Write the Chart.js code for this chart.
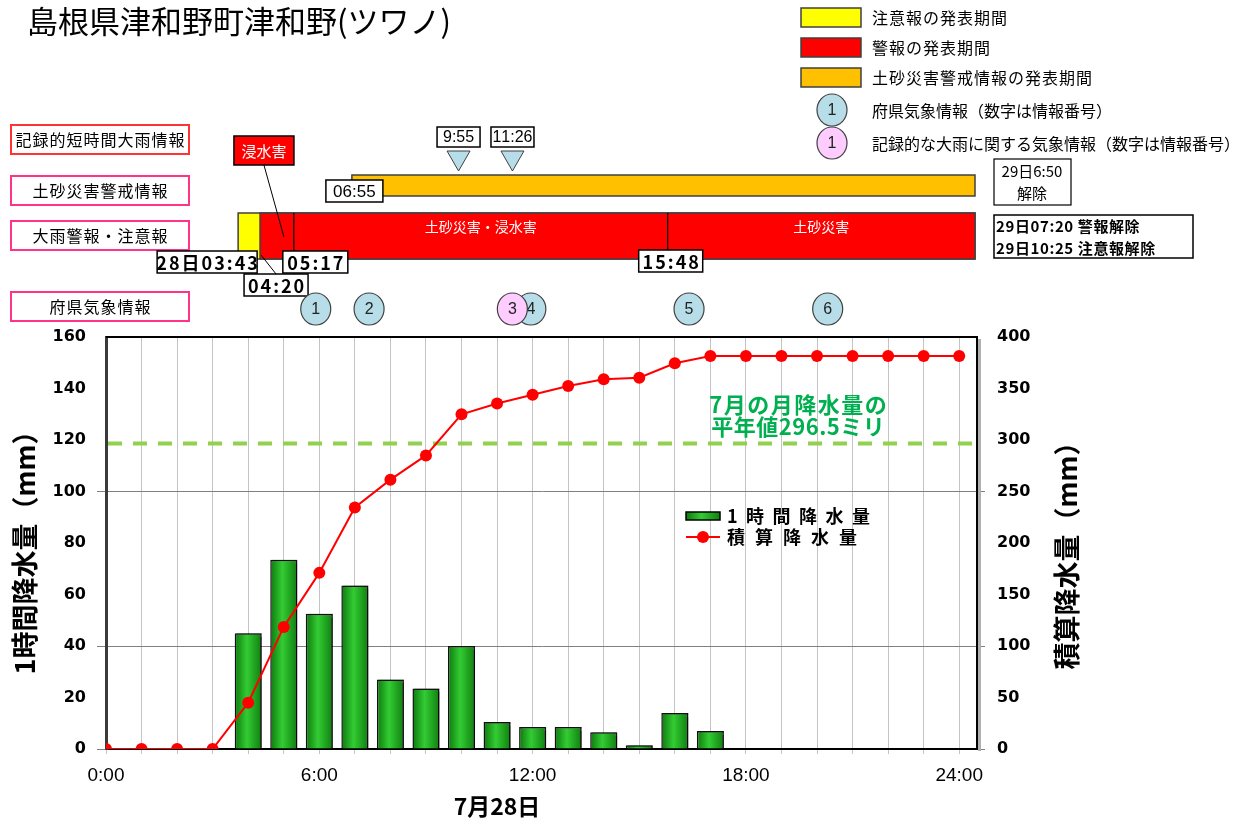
<!DOCTYPE html>
<html lang="ja">
<head>
<meta charset="utf-8">
<title>島根県津和野町津和野 降水量</title>
<script src="https://cdn.jsdelivr.net/npm/chart.js@4.4.1/dist/chart.umd.min.js"></script>
<style>
  html, body { margin: 0; padding: 0; background: #fff; }
  #wrap { width: 1257px; height: 821px; }
</style>
</head>
<body>
<div id="wrap"><canvas id="rainChart" width="1257" height="821"></canvas></div>
<script>
// 7月28日 0時〜24時
const hours = [0, 1, 2, 3, 4, 5, 6, 7, 8, 9, 10, 11, 12, 13, 14, 15, 16, 17, 18, 19, 20, 21, 22, 23, 24];
// 1時間降水量 (mm)
const hourlyRain = [0, 0, 0, 0, 45, 73.5, 52.5, 63.5, 27, 23.5, 40, 10.5, 8.5, 8.5, 6.5, 1.5, 14, 7, 0, 0, 0, 0, 0, 0, 0];
// 積算降水量 (mm)
const totalRain = [0, 0, 0, 0, 45, 118.5, 171, 234.5, 261.5, 285, 325, 335.5, 344, 352.5, 359, 360.5, 374.5, 381.5, 381.5, 381.5, 381.5, 381.5, 381.5, 381.5, 381.5];
// 7月の月降水量の平年値
const julyNormal = 296.5;

const xTickHours = [0, 6, 12, 18, 24];
const xTickLabels = ['0:00', '6:00', '12:00', '18:00', '24:00'];
const leftGridValues = [0, 40, 100];
const rightGridValues = [0, 100, 250];

// 防災情報の発表時刻（28日0時からの時間）
const advisoryFrom = 3 + 43 / 60;          // 28日03:43 注意報
const advisoryTo = 24 + 10 + 25 / 60;      // 29日10:25 注意報解除
const warningFrom = 4 + 20 / 60;           // 04:20 警報（浸水害）
const warningChanges = [5 + 17 / 60, 15 + 48 / 60]; // 05:17 土砂災害・浸水害 / 15:48 土砂災害
const warningTo = 24 + 7 + 20 / 60;        // 29日07:20 警報解除
const sedimentFrom = 6 + 55 / 60;          // 06:55 土砂災害警戒情報
const sedimentTo = 24 + 6 + 50 / 60;       // 29日6:50 解除
const recordTimes = [9 + 55 / 60, 11 + 26 / 60];
const recordLabels = ['9:55', '11:26'];
const infoNumbers = [1, 2, 3, 4, 5, 6];
const infoTimes = [5.9, 7.4, 11.43, 11.95, 16.4, 20.3];
const infoRecord = [false, false, true, false, false, false];

const JP = '"Noto Sans CJK JP", sans-serif';

function rect(ctx, x, y, w, h, fill, stroke, lw) {
  if (fill) { ctx.fillStyle = fill; ctx.fillRect(x, y, w, h); }
  if (stroke) { ctx.strokeStyle = stroke; ctx.lineWidth = lw || 1; ctx.strokeRect(x, y, w, h); }
}

function text(ctx, s, x, y, font, color, align) {
  ctx.font = font;
  ctx.fillStyle = color;
  ctx.textAlign = align || 'left';
  ctx.textBaseline = 'middle';
  ctx.fillText(s, x, y);
}

// 字間を空けて描く
function spaced(ctx, s, x, y, font, color, gap, align) {
  ctx.font = font;
  ctx.fillStyle = color;
  ctx.textAlign = 'left';
  ctx.textBaseline = 'middle';
  const chars = [...s];
  const ws = chars.map(c => ctx.measureText(c).width);
  const total = ws.reduce((a, b) => a + b, 0) + gap * (chars.length - 1);
  let cx = align === 'center' ? x - total / 2 : x;
  chars.forEach((c, i) => { ctx.fillText(c, cx, y); cx += ws[i] + gap; });
}

function line(ctx, x0, y0, x1, y1, color, lw) {
  ctx.beginPath();
  ctx.moveTo(x0, y0);
  ctx.lineTo(x1, y1);
  ctx.strokeStyle = color;
  ctx.lineWidth = lw;
  ctx.stroke();
}

function marker(ctx, n, x, y, record) {
  ctx.beginPath();
  ctx.ellipse(x, y, 15, 16, 0, 0, Math.PI * 2);
  ctx.fillStyle = record ? '#ffccff' : '#b7dde8';
  ctx.fill();
  ctx.strokeStyle = '#404040';
  ctx.lineWidth = 1.2;
  ctx.stroke();
  text(ctx, String(n), x, y + 1, '16px "Liberation Sans"', '#222', 'center');
}

function greenGradient(ctx, x0, x1) {
  const g = ctx.createLinearGradient(x0, 0, x1, 0);
  g.addColorStop(0, '#0d780d');
  g.addColorStop(0.45, '#33cc33');
  g.addColorStop(1, '#0f7f0f');
  return g;
}

function barFill(c) {
  const chart = c.chart;
  const xs = chart.scales.x;
  if (!xs || c.type !== 'data') return '#2fbf2f';
  const px = xs.getPixelForValue(hours[c.dataIndex]);
  const half = (xs.getPixelForValue(1) - xs.getPixelForValue(0)) * 0.76 / 2;
  if (!isFinite(px) || !isFinite(half)) return '#2fbf2f';
  return greenGradient(chart.ctx, px - half, px + half);
}

const overlay = {
  id: 'overlay',
  beforeDatasetsDraw(chart) {
    const { ctx, chartArea: ca, scales } = chart;
    const y = scales.y1.getPixelForValue(julyNormal);
    ctx.save();
    ctx.setLineDash([14, 11]);
    line(ctx, ca.left + 2, y, ca.right, y, '#92d050', 4);
    ctx.restore();
  },
  beforeDatasetDraw(chart, args) {
    if (args.index !== 1) return;
    const ctx = chart.ctx;
    ctx.save();
    ctx.shadowColor = 'rgba(0,0,0,0.55)';
    ctx.shadowOffsetX = 2;
    ctx.shadowOffsetY = 0;
    ctx.shadowBlur = 1;
  },
  afterDatasetDraw(chart, args) {
    if (args.index === 1) chart.ctx.restore();
  },
  afterDraw(chart) {
    const { ctx, chartArea: ca, scales } = chart;
    const xs = scales.x;
    const right = ca.right - 2;
    const px = t => Math.min(xs.getPixelForValue(t), right);
    ctx.save();

    // 枠の上辺と右の影
    line(ctx, ca.left, ca.top, ca.right, ca.top, '#000', 2);
    line(ctx, ca.right + 2.5, ca.top + 2, ca.right + 2.5, ca.bottom + 2, '#b0b0b0', 3);

    // タイトル
    text(ctx, '島根県津和野町津和野(ツワノ)', 27, 21, '31px ' + JP, '#000');

    // 凡例（右上）
    rect(ctx, 801, 8, 60, 19, '#ffff00', '#404040', 1.5);
    rect(ctx, 801, 38, 60, 19, '#ff0000', '#404040', 1.5);
    rect(ctx, 801, 68, 60, 19, '#ffc000', '#404040', 1.5);
    spaced(ctx, '注意報の発表期間', 872, 18, '16px ' + JP, '#000', 1);
    spaced(ctx, '警報の発表期間', 872, 48, '16px ' + JP, '#000', 1);
    spaced(ctx, '土砂災害警戒情報の発表期間', 872, 78, '16px ' + JP, '#000', 1);
    marker(ctx, 1, 832, 110, false);
    marker(ctx, 1, 832, 143, true);
    text(ctx, '府県気象情報（数字は情報番号）', 872, 111, '16px ' + JP, '#000');
    text(ctx, '記録的な大雨に関する気象情報（数字は情報番号）', 872, 144, '16px ' + JP, '#000');

    // 左の項目名
    const rows = [
      ['記録的短時間大雨情報', 125, '#ff3333'],
      ['土砂災害警戒情報', 176, '#ff3388'],
      ['大雨警報・注意報', 221, '#ff3388'],
      ['府県気象情報', 292, '#ff3388']
    ];
    rows.forEach(([s, y, c]) => {
      rect(ctx, 11, y, 178, 29, '#fff', c, 2);
      spaced(ctx, s, 100, y + 15, '16px ' + JP, '#000', 1, 'center');
    });

    // 大雨警報・注意報
    const yTop = 213, yH = 46;
    const ax0 = px(advisoryFrom), ax1 = px(advisoryTo);
    rect(ctx, ax0, yTop, ax1 - ax0, yH, '#ffff00', '#404040', 1.5);
    const wx0 = px(warningFrom), wx1 = px(warningTo);
    rect(ctx, wx0, yTop, wx1 - wx0, yH, '#ff0000', '#404040', 1.5);
    const cx = warningChanges.map(px);
    cx.forEach(x => line(ctx, x, yTop, x, yTop + yH, '#000', 1.2));
    text(ctx, '土砂災害・浸水害', (cx[0] + cx[1]) / 2, yTop + 14, '14px ' + JP, '#fff', 'center');
    text(ctx, '土砂災害', (cx[1] + wx1) / 2, yTop + 14, '14px ' + JP, '#fff', 'center');

    // 土砂災害警戒情報
    const sx0 = px(sedimentFrom), sx1 = px(sedimentTo);
    rect(ctx, sx0, 175, sx1 - sx0, 21, '#ffc000', '#404040', 1.5);

    // 時刻ラベル
    const timeBox = (s, x, y, w, h, font, gap) => {
      rect(ctx, x, y, w, h, '#fff', '#000', 1.5);
      spaced(ctx, s, x + w / 2, y + h / 2 + 1, font, '#000', gap, 'center');
    };
    const boldT = 'bold 18px ' + JP;
    timeBox('28日03:43', ax0 + 19 - 100, 251, 100, 22, boldT, 2);
    line(ctx, wx0 + 16, 274, wx0 + 1, 255, '#000', 1);
    timeBox('04:20', wx0 - 16, 274, 64, 22, boldT, 2);
    timeBox('05:17', cx[0] - 11, 251, 65, 22, boldT, 2);
    timeBox('15:48', cx[1] - 29, 250, 64, 22, boldT, 2);
    timeBox('06:55', sx0 - 26, 180, 57, 22, '17px "Liberation Sans"', 0);

    // 浸水害
    const fm = (wx0 + cx[0]) / 2;
    line(ctx, fm - 13, 165, fm + 7, 237, '#000', 1);
    rect(ctx, fm - 43, 136, 60, 29, '#ff0000', '#000', 1.5);
    text(ctx, '浸水害', fm - 13, 151, '15px ' + JP, '#fff', 'center');

    // 記録的短時間大雨情報
    recordTimes.forEach((t, i) => {
      const ex = px(t);
      timeBox(recordLabels[i], ex - 21.5, 127, 43, 20, '16px "Liberation Sans"', 0);
      ctx.beginPath();
      ctx.moveTo(ex - 11.5, 151);
      ctx.lineTo(ex + 11.5, 151);
      ctx.lineTo(ex, 171);
      ctx.closePath();
      ctx.fillStyle = '#b7dde8';
      ctx.fill();
      ctx.strokeStyle = '#404040';
      ctx.lineWidth = 1;
      ctx.stroke();
    });

    // 府県気象情報（記録的な大雨に関する情報は手前に）
    [false, true].forEach(rec => {
      infoNumbers.forEach((n, i) => {
        if (infoRecord[i] === rec) marker(ctx, n, px(infoTimes[i]), 309, rec);
      });
    });

    // 解除時刻
    rect(ctx, 994, 159, 77, 46, '#fff', '#000', 1.2);
    text(ctx, '29日6:50', 1032, 171, '15px ' + JP, '#000', 'center');
    text(ctx, '解除', 1032, 193, '15px ' + JP, '#000', 'center');
    rect(ctx, 994, 215, 199, 43, '#fff', '#000', 1.5);
    spaced(ctx, '29日07:20 警報解除', 996, 226, 'bold 15px ' + JP, '#000', 0.6);
    spaced(ctx, '29日10:25 注意報解除', 996, 248, 'bold 15px ' + JP, '#000', 0.6);

    // 平年値の注記
    spaced(ctx, '7月の月降水量の', 798, 405, 'bold 22px ' + JP, '#00b050', 1.5, 'center');
    spaced(ctx, '平年値296.5ミリ', 798, 427, 'bold 22px ' + JP, '#00b050', 0.5, 'center');

    // 凡例（グラフ内）
    ctx.fillStyle = greenGradient(ctx, 686, 720);
    ctx.fillRect(686, 512, 34, 8);
    ctx.strokeStyle = '#000';
    ctx.lineWidth = 1.5;
    ctx.strokeRect(686, 512, 34, 8);
    spaced(ctx, '1時間降水量', 727, 516, 'bold 18px ' + JP, '#000', 8.5);
    line(ctx, 686, 537, 720, 537, '#ff0000', 2);
    ctx.beginPath();
    ctx.arc(703, 537, 6, 0, Math.PI * 2);
    ctx.fillStyle = '#ff0000';
    ctx.fill();
    spaced(ctx, '積算降水量', 727, 537, 'bold 18px ' + JP, '#000', 10);

    // 軸タイトル
    ctx.save();
    ctx.translate(25, 546);
    ctx.rotate(-Math.PI / 2);
    text(ctx, '1時間降水量（mm）', 0, 0, 'bold 27px ' + JP, '#000', 'center');
    ctx.restore();
    ctx.save();
    ctx.translate(1067, 549);
    ctx.rotate(-Math.PI / 2);
    text(ctx, '積算降水量（mm）', 0, 0, 'bold 27px ' + JP, '#000', 'center');
    ctx.restore();
    text(ctx, '7月28日', 497, 806, 'bold 23px ' + JP, '#000', 'center');

    ctx.restore();
  }
};

const tickFont = { family: 'DejaVu Sans', size: 16, weight: 'bold' };

new Chart(document.getElementById('rainChart'), {
  type: 'bar',
  data: {
    datasets: [{
      type: 'line',
      label: '積算降水量',
      data: hours.map((h, i) => ({ x: h, y: totalRain[i] })),
      yAxisID: 'y1',
      borderColor: '#ff0000',
      backgroundColor: '#ff0000',
      borderWidth: 2,
      pointRadius: 6,
      pointBorderWidth: 0,
      pointBackgroundColor: '#ff0000',
      tension: 0,
      order: 0
    }, {
      type: 'bar',
      label: '1時間降水量',
      data: hours.map((h, i) => ({ x: h, y: hourlyRain[i] })),
      yAxisID: 'y',
      backgroundColor: barFill,
      borderColor: '#111',
      borderWidth: 1.5,
      barPercentage: 0.76,
      categoryPercentage: 1,
      order: 1
    }]
  },
  options: {
    responsive: false,
    animation: false,
    devicePixelRatio: 1,
    layout: { padding: { top: 337, left: 0, right: 0, bottom: 0 } },
    plugins: {
      legend: { display: false },
      tooltip: { enabled: false }
    },
    scales: {
      x: {
        type: 'linear',
        min: 0,
        max: 24.5,
        offset: false,
        afterBuildTicks: s => { s.ticks = hours.map(v => ({ value: v })); },
        afterFit: s => { s.height = 72; },
        ticks: {
          autoSkip: false,
          maxRotation: 0,
          padding: 10,
          color: '#000',
          font: { family: 'Liberation Sans', size: 19 },
          callback: v => {
            const k = xTickHours.indexOf(v);
            return k >= 0 ? xTickLabels[k] : '';
          }
        },
        grid: { color: '#c4c4c4', lineWidth: 1, tickLength: 5, offset: false },
        border: { color: '#000', width: 2 }
      },
      y: {
        position: 'left',
        min: 0,
        max: 160,
        afterFit: s => { s.width = 106; },
        ticks: { stepSize: 20, padding: 11, color: '#000', font: tickFont },
        grid: {
          color: c => (c.tick && leftGridValues.includes(c.tick.value)) ? '#808080' : 'rgba(0,0,0,0)',
          lineWidth: 1,
          tickLength: 9
        },
        border: { color: '#3a3a3a', width: 3 }
      },
      y1: {
        position: 'right',
        min: 0,
        max: 400,
        afterFit: s => { s.width = 280; },
        ticks: { stepSize: 50, padding: 12, color: '#000', font: tickFont },
        grid: {
          drawOnChartArea: false,
          color: c => (c.tick && rightGridValues.includes(c.tick.value)) ? '#808080' : 'rgba(0,0,0,0)',
          lineWidth: 1,
          tickLength: 8
        },
        border: { color: '#000', width: 2 }
      }
    }
  },
  plugins: [overlay]
});
</script>
</body>
</html>
